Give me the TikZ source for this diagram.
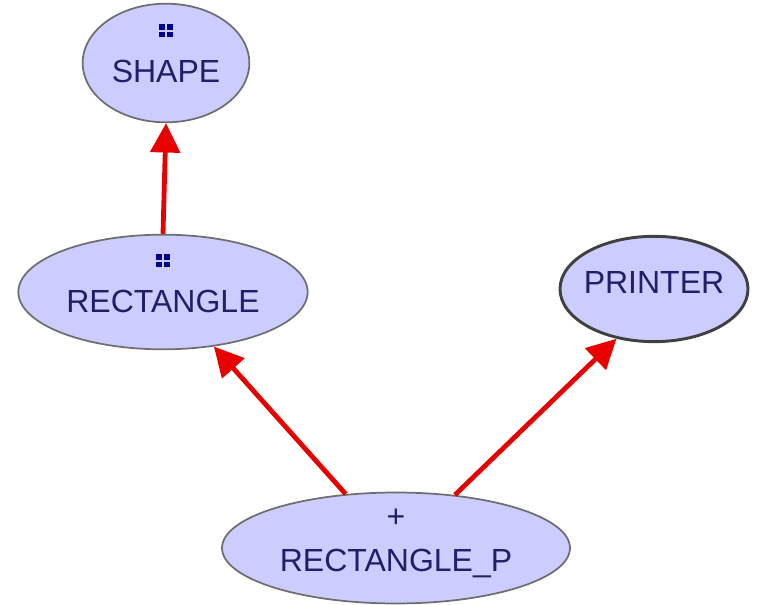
\documentclass[tikz,border=0pt]{standalone}
\usepackage{fontspec}
\setmainfont{Liberation Sans}
\usetikzlibrary{shapes.geometric,arrows.meta}

\definecolor{classfill}{RGB}{204,204,255}
\definecolor{classtext}{RGB}{32,32,104}
\definecolor{classline}{RGB}{110,110,110}
\definecolor{markblue}{RGB}{0,0,140}
\definecolor{inheritred}{RGB}{232,0,0}

% deferred marker: four little squares
\newcommand{\defsq}{\rule[5.8pt]{4.3pt}{4.3pt}\kern-4.3pt\rule{4.3pt}{4.3pt}}
\newcommand{\defmark}{\textcolor{markblue}{\mbox{\defsq\kern1.5pt\defsq}}}
\newcommand{\lowpad}[1]{\rule[-#1]{0pt}{#1}}

\begin{document}
\begin{tikzpicture}[x=0.75pt,y=-0.75pt,
  class/.style={ellipse, draw=classline, line width=1.3pt, fill=classfill,
    text=classtext, inner sep=0pt, align=center,
    font=\fontsize{24}{28}\selectfont},
  inheritarrow/.style={draw=inheritred, line width=3.6pt,
    -{Triangle[length=22pt,width=22pt]}}]

  \useasboundingbox (0,0) rectangle (765,605);

  \node[class, minimum width=125pt, minimum height=89pt] (shape) at (166,63)
    {\defmark\\[6pt]SHAPE\lowpad{14.5pt}};
  \node[class, minimum width=217pt, minimum height=86pt] (rect) at (163,292)
    {\defmark\\[6pt]RECTANGLE\lowpad{13pt}};
  \node[class, draw=black!75, line width=2.2pt, inner xsep=-3pt,
    minimum width=141pt, minimum height=79pt] (printer) at (654,289)
    {PRINTER\lowpad{10.5pt}};
  \node[class, minimum width=261pt, minimum height=82pt] (rectp) at (396,548)
    {+\\[5pt]RECTANGLE\_P\lowpad{12pt}};

  \draw[inheritarrow] (rect.north) -- (shape.south);
  \draw[inheritarrow] (rectp.133) -- (rect.-47);
  \draw[inheritarrow] (rectp.42) -- (printer.233);

\end{tikzpicture}
\end{document}
